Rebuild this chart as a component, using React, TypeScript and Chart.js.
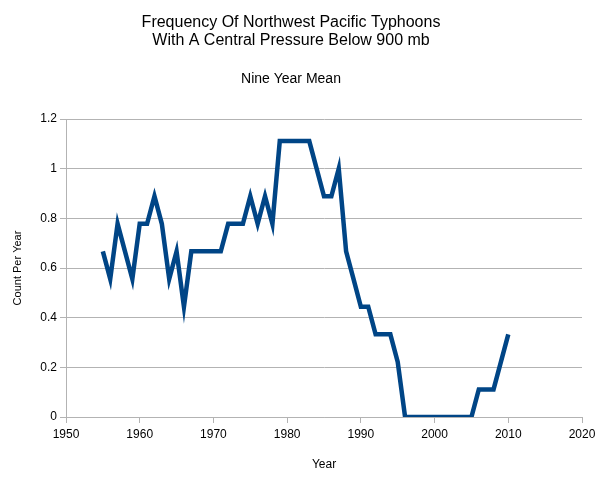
import React, { useEffect, useRef } from "react";
import { Chart, registerables } from "chart.js";

Chart.register(...registerables);

const years: number[] = [
  1955, 1956, 1957, 1958, 1959, 1960, 1961, 1962, 1963, 1964,
  1965, 1966, 1967, 1968, 1969, 1970, 1971, 1972, 1973, 1974,
  1975, 1976, 1977, 1978, 1979, 1980, 1981, 1982, 1983, 1984,
  1985, 1986, 1987, 1988, 1989, 1990, 1991, 1992, 1993, 1994,
  1995, 1996, 1997, 1998, 1999, 2000, 2001, 2002, 2003, 2004,
  2005, 2006, 2007, 2008, 2009, 2010,
];

const nineYearMean: number[] = [
  0.667, 0.556, 0.778, 0.667, 0.556, 0.778, 0.778, 0.889, 0.778, 0.556,
  0.667, 0.444, 0.667, 0.667, 0.667, 0.667, 0.667, 0.778, 0.778, 0.778,
  0.889, 0.778, 0.889, 0.778, 1.111, 1.111, 1.111, 1.111, 1.111, 1.0,
  0.889, 0.889, 1.0, 0.667, 0.556, 0.444, 0.444, 0.333, 0.333, 0.333,
  0.222, 0, 0, 0, 0, 0, 0, 0, 0, 0,
  0, 0.111, 0.111, 0.111, 0.222, 0.333,
];

const titleLines: string[] = [
  "Frequency Of Northwest Pacific Typhoons",
  "With A Central Pressure Below 900 mb",
];
const subtitleText = "Nine Year Mean";
const xAxisTitle = "Year";
const yAxisTitle = "Count Per Year";

const FONT = "'Liberation Sans', Arial, sans-serif";
const GRID = "#b3b3b3";

export default function App() {
  const ref = useRef<HTMLCanvasElement | null>(null);

  useEffect(() => {
    if (!ref.current) return;
    const chart = new Chart(ref.current, {
      type: "line",
      data: {
        datasets: [
          {
            label: "Nine Year Mean",
            data: years.map((y, i) => ({ x: y, y: nineYearMean[i] })),
            borderColor: "#004586",
            backgroundColor: "#004586",
            borderWidth: 4.5,
            pointRadius: 0,
            tension: 0,
            borderJoinStyle: "miter",
            fill: false,
          },
        ],
      },
      options: {
        responsive: false,
        animation: false,
        devicePixelRatio: 1,
        layout: { padding: { left: 0, right: 29, top: 0, bottom: 0 } },
        plugins: {
          legend: { display: false },
          tooltip: { enabled: false },
          title: {
            display: true,
            text: titleLines,
            color: "#000",
            font: { family: FONT, size: 16, weight: "normal", lineHeight: 1.1 },
            padding: { top: 14, bottom: 0 },
          },
          subtitle: {
            display: true,
            text: subtitleText,
            color: "#000",
            font: { family: FONT, size: 14, weight: "normal", lineHeight: 1.2 },
            padding: { top: 22, bottom: 31 },
          },
        },
        scales: {
          x: {
            type: "linear",
            min: 1950,
            max: 2020,
            afterFit: (s: any) => {
              s.height = 64;
            },
            ticks: {
              stepSize: 10,
              color: "#000",
              font: { family: FONT, size: 12 },
              padding: 4,
              maxRotation: 0,
              callback: (v: any) => String(v),
            },
            grid: {
              drawOnChartArea: false,
              drawTicks: true,
              tickLength: 6,
              color: GRID,
            },
            border: { display: true, color: GRID, width: 1 },
            title: {
              display: true,
              text: xAxisTitle,
              color: "#000",
              font: { family: FONT, size: 12 },
              padding: { top: 0, bottom: 9 },
            },
          },
          y: {
            type: "linear",
            min: 0,
            max: 1.2,
            afterFit: (s: any) => {
              s.width = 66;
            },
            ticks: {
              stepSize: 0.2,
              color: "#000",
              font: { family: FONT, size: 12 },
              padding: 3,
              callback: (v: any) => String(Math.round(Number(v) * 10) / 10),
            },
            grid: {
              color: GRID,
              tickLength: 6,
              drawTicks: true,
            },
            border: { display: true, color: GRID, width: 1 },
            title: {
              display: true,
              text: yAxisTitle,
              color: "#000",
              font: { family: FONT, size: 11 },
              padding: { top: 11, bottom: 0 },
            },
          },
        },
      },
    });
    return () => chart.destroy();
  }, []);

  return (
    <div style={{ position: "fixed", left: 0, top: 0, width: 611, height: 481, background: "#fff" }}>
      <canvas ref={ref} width={611} height={481} style={{ display: "block" }} />
    </div>
  );
}
